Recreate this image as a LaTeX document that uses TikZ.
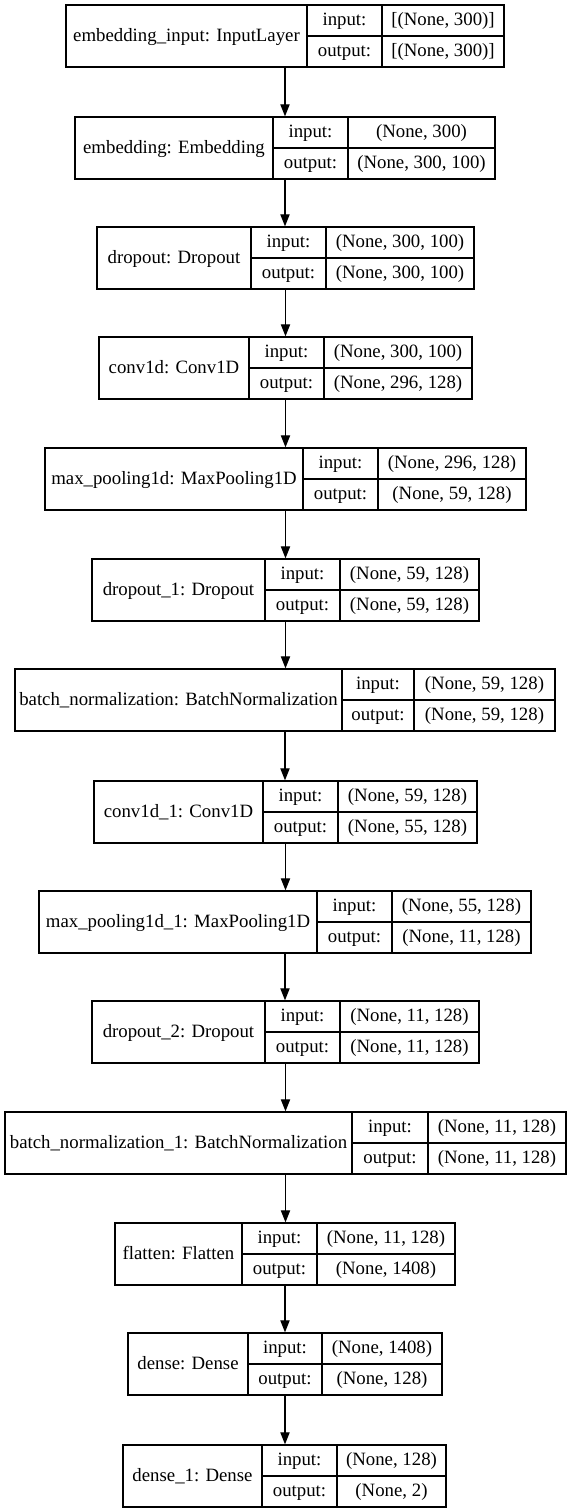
\documentclass[tikz,border=0pt]{standalone}
\usepackage{fontspec}
\setmainfont{Liberation Serif}
\usetikzlibrary{arrows.meta,fit}
\tikzset{
  layer/.style={draw, inner sep=0pt, line width=0.65pt},
  cell/.style={font=\fontsize{9.4}{11}\selectfont, inner sep=0pt,
    text height=1.5ex, text depth=0.4ex},
  flow/.style={-{Triangle[length=6pt,width=4.6pt]}, line width=0.6pt}
}
% #1 name, #2 top, #3 left, #4 first divider, #5 second divider, #6 right
\newcommand{\layer}[9]{%
  \coordinate (#1-a) at (#3,#2);
  \coordinate (#1-b) at (#6,#2+62);
  \node[layer, fit=(#1-a)(#1-b)] (#1) {};
  \draw[line width=0.65pt] (#4,#2) -- (#4,#2+62) (#5,#2) -- (#5,#2+62)
    (#4,#2+31) -- (#6,#2+31);
  \node[cell] (#1-name) at ({(#3+#4)/2},#2+31) {#7};
  \node[cell] (#1-inl) at ({(#4+#5)/2},#2+15.5) {input:};
  \node[cell] (#1-outl) at ({(#4+#5)/2},#2+46.5) {output:};
  \node[cell] (#1-in) at ({(#5+#6)/2},#2+15.5) {#8};
  \node[cell] (#1-out) at ({(#5+#6)/2},#2+46.5) {#9};
}
\begin{document}
\begin{tikzpicture}[x=0.5pt,y=-0.5pt]
  \useasboundingbox (0,0) rectangle (571,1512);
  \layer{inp}{5}{66}{307}{382}{504}{embedding\_input: InputLayer}{[(None, 300)]}{[(None, 300)]}
  \layer{emb}{117}{75}{273}{348}{495}{embedding: Embedding}{(None, 300)}{(None, 300, 100)}
  \layer{drop}{227}{97}{251}{326}{474}{dropout: Dropout}{(None, 300, 100)}{(None, 300, 100)}
  \layer{conv}{337}{99}{249}{324}{472}{conv1d: Conv1D}{(None, 300, 100)}{(None, 296, 128)}
  \layer{pool}{448}{45}{303}{378}{526}{max\_pooling1d: MaxPooling1D}{(None, 296, 128)}{(None, 59, 128)}
  \layer{dropa}{559}{92}{265}{340}{479}{dropout\_1: Dropout}{(None, 59, 128)}{(None, 59, 128)}
  \layer{bn}{669}{15}{342}{414}{555}{batch\_normalization: BatchNormalization}{(None, 59, 128)}{(None, 59, 128)}
  \layer{conva}{781}{94}{263}{338}{477}{conv1d\_1: Conv1D}{(None, 59, 128)}{(None, 55, 128)}
  \layer{poola}{891}{39}{317}{392}{531}{max\_pooling1d\_1: MaxPooling1D}{(None, 55, 128)}{(None, 11, 128)}
  \layer{dropb}{1001}{92}{265}{340}{479}{dropout\_2: Dropout}{(None, 11, 128)}{(None, 11, 128)}
  \layer{bna}{1112}{5}{352}{428}{566}{batch\_normalization\_1: BatchNormalization}{(None, 11, 128)}{(None, 11, 128)}
  \layer{flat}{1223}{115}{242}{317}{455}{flatten: Flatten}{(None, 11, 128)}{(None, 1408)}
  \layer{dense}{1333}{128}{248}{322}{442}{dense: Dense}{(None, 1408)}{(None, 128)}
  \layer{densea}{1445}{123}{262}{337}{446}{dense\_1: Dense}{(None, 128)}{(None, 2)}
  \foreach \a/\b in {inp/emb,emb/drop,drop/conv,conv/pool,pool/dropa,dropa/bn,
      bn/conva,conva/poola,poola/dropb,dropb/bna,bna/flat,flat/dense,dense/densea}
    \draw[flow] (\a.south) -- (\a.south |- \b.north);
\end{tikzpicture}
\end{document}
